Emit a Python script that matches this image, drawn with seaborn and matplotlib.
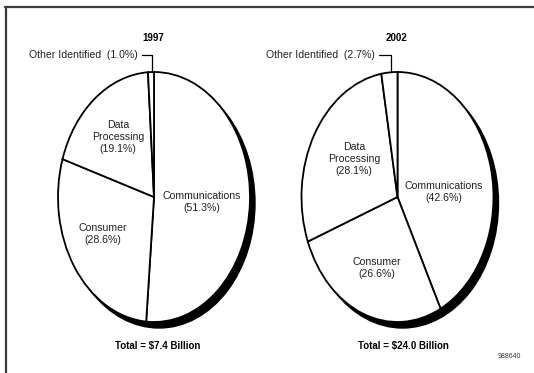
import matplotlib
matplotlib.use("Agg")
import matplotlib.pyplot as plt
from matplotlib.patches import Ellipse
from matplotlib.lines import Line2D
import seaborn as sns

# ---- data ----
categories = ["Communications", "Consumer", "Data Processing", "Other Identified"]
display_names = ["Communications", "Consumer", "Data\nProcessing", "Other Identified"]
shares_1997 = [51.3, 28.6, 19.1, 1.0]
shares_2002 = [42.6, 26.6, 28.1, 2.7]
years = ["1997", "2002"]
totals = ["Total = $7.4 Billion", "Total = $24.0 Billion"]
code_label = "988640"

sns.set_theme(style="white")
FAM = ["Liberation Sans", "DejaVu Sans"]
plt.rcParams["font.family"] = FAM

W, H = 534, 373
fig = plt.figure(figsize=(W / 100, H / 100), dpi=100)
fig.patch.set_facecolor("white")


def fx(x):
    return x / W


def fy(y):
    return 1 - y / H


# border (top and left only visible)
fig.add_artist(Line2D([fx(5), fx(534)], [fy(7), fy(7)], color="#3a3a3a", lw=1.6))
fig.add_artist(Line2D([fx(6), fx(6)], [fy(7), fy(373)], color="#3a3a3a", lw=1.6))

RX, RY = 96, 125
SHX, SHY = 5, 6
LBL = 7.6
BOLD = 7.0

pies = [
    dict(values=shares_1997, cx=154, cy=197, year=years[0], total=totals[0],
         title_xy=(153, 38), total_xy=(158, 346),
         other_right=138, leader=(142, 152, 55, 72),
         label_xy=[(202, 202), (103, 234), (118, 137)]),
    dict(values=shares_2002, cx=397.5, cy=197, year=years[1], total=totals[1],
         title_xy=(397, 38), total_xy=(403, 346),
         other_right=375, leader=(379, 391, 55, 72),
         label_xy=[(444, 192), (377, 268), (354, 159)]),
]

for p in pies:
    ax = fig.add_axes([fx(p["cx"] - RX), fy(p["cy"] + RY), 2 * RX / W, 2 * RY / H])
    ax.add_patch(Ellipse((SHX / RX, -SHY / RY), 2, 2, facecolor="black",
                         edgecolor="black", zorder=0, clip_on=False))
    wedges, _ = ax.pie(p["values"], startangle=90, counterclock=False,
                       colors=["white"] * len(p["values"]),
                       wedgeprops=dict(edgecolor="black", linewidth=1.3),
                       radius=1)
    for w in wedges:
        w.set_zorder(2)
        w.set_clip_on(False)
    ax.set_aspect("auto")
    ax.set_xlim(-1, 1)
    ax.set_ylim(-1, 1)
    ax.axis("off")

    # category labels
    for name, val, (lx, ly) in zip(display_names[:3], p["values"][:3], p["label_xy"]):
        fig.text(fx(lx), fy(ly), f"{name}\n({val:.1f}%)", ha="center", va="center",
                 fontsize=LBL, color="#222222", linespacing=1.2)
    fig.text(fx(p["other_right"]), fy(55), f"{display_names[3]}  ({p['values'][3]:.1f}%)",
             ha="right", va="center", fontsize=LBL, color="#222222")
    x0, x1, y0, y1 = p["leader"]
    fig.add_artist(Line2D([fx(x0), fx(x1), fx(x1)], [fy(y0), fy(y0), fy(y1)],
                          color="black", lw=0.9))
    fig.text(fx(p["title_xy"][0]), fy(p["title_xy"][1]), p["year"], ha="center",
             va="center", fontsize=BOLD, fontweight="bold", color="black")
    fig.text(fx(p["total_xy"][0]), fy(p["total_xy"][1]), p["total"], ha="center",
             va="center", fontsize=BOLD, fontweight="bold", color="black")

fig.text(fx(509), fy(357), code_label, ha="center", va="center", fontsize=5,
         color="#333333")

fig.savefig("out.png", dpi=100, facecolor="white")
